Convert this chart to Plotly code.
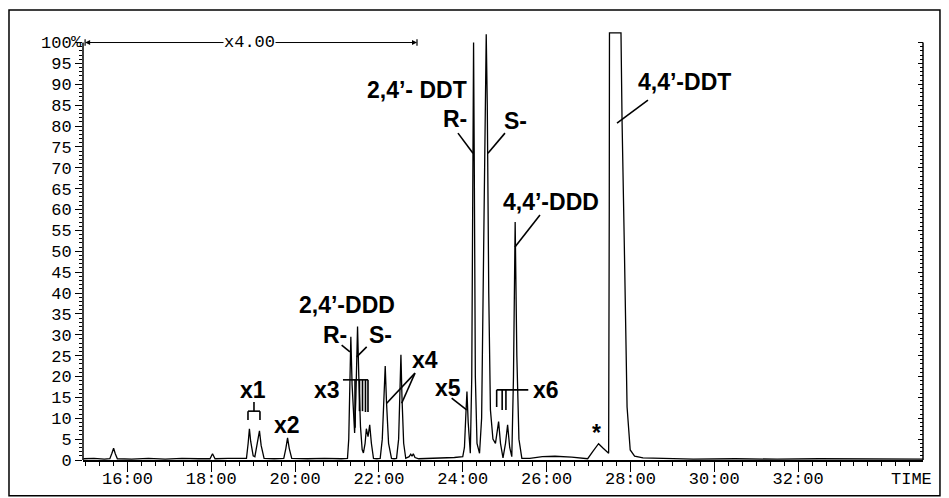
import plotly.graph_objects as go

# ---------------- data ----------------
# retention time (min) and relative intensity (%)
time_min = [
    14.95, 15.20, 15.45, 15.58, 15.63, 15.67, 15.71, 15.76, 16.10, 16.50,
    16.90, 17.30, 17.70, 17.97, 18.03, 18.09, 18.40, 18.70, 18.84, 18.88,
    18.91, 18.94, 19.00, 19.04, 19.09, 19.15, 19.19, 19.26, 19.50, 19.73,
    19.78, 19.82, 19.86, 19.92, 20.30, 20.70, 21.10, 21.25, 21.28, 21.31,
    21.33, 21.36, 21.40, 21.42, 21.45, 21.47, 21.49, 21.52, 21.56, 21.60,
    21.63, 21.67, 21.70, 21.74, 21.78, 21.82, 21.87, 21.95, 22.03, 22.08,
    22.12, 22.15, 22.18, 22.23, 22.30, 22.36, 22.42, 22.47, 22.50, 22.525,
    22.55, 22.59, 22.64, 22.72, 22.76, 22.79, 22.82, 22.86, 22.95, 23.40,
    23.80, 24.00, 24.04, 24.07, 24.10, 24.13, 24.16, 24.18, 24.215, 24.24,
    24.258, 24.275, 24.30, 24.34, 24.40, 24.45, 24.50, 24.535, 24.56, 24.585,
    24.62, 24.66, 24.72, 24.78, 24.82, 24.855, 24.90, 24.96, 25.02, 25.07,
    25.12, 25.17, 25.21, 25.25, 25.29, 25.34, 25.41, 25.60, 25.90, 26.20,
    26.60, 26.90, 26.98, 27.10, 27.24, 27.35, 27.46, 27.48, 27.495, 27.50,
    27.775, 27.80, 27.855, 27.92, 27.995, 28.10, 28.30, 28.60, 28.90, 29.50,
    30.50, 31.50, 32.50, 33.50, 34.98,
]
intensity = [
    0.3, 0.4, 0.2, 0.3, 1.6, 2.8, 1.5, 0.3, 0.2, 0.4,
    0.2, 0.4, 0.3, 0.3, 1.5, 0.3, 0.4, 0.3, 0.4, 4.0,
    7.5, 4.5, 1.0, 0.8, 3.5, 7.0, 3.5, 0.4, 0.3, 0.4,
    2.8, 5.3, 2.8, 0.4, 0.3, 0.4, 0.3, 0.4, 5.0, 22.0,
    29.5, 18.0, 8.0, 6.5, 15.0, 27.0, 32.0, 20.0, 8.0, 2.5,
    1.7, 4.0, 7.5, 5.6, 8.4, 4.0, 0.4, 0.3, 0.4, 5.0,
    15.0, 22.5, 14.0, 4.0, 0.4, 0.3, 0.4, 5.0, 16.0, 25.2,
    15.0, 4.0, 0.4, 0.8, 1.4, 0.9, 1.5, 0.6, 0.3, 0.4,
    0.6, 0.8, 3.0, 10.0, 16.4, 9.0, 2.5, 1.6, 20.0, 70.0,
    100.0, 70.0, 20.0, 4.0, 1.6, 10.0, 50.0, 90.0, 102.0, 85.0,
    40.0, 12.0, 5.0, 4.0, 7.0, 9.2, 4.0, 0.5, 4.0, 8.4,
    3.0, 0.8, 20.0, 57.0, 25.0, 5.0, 0.4, 0.4, 0.8, 0.9,
    0.7, 0.4, 0.3, 2.0, 3.9, 2.8, 1.6, 1.6, 60.0, 102.3,
    102.3, 81.5, 51.0, 12.7, 2.4, 0.9, 0.5, 0.4, 0.3, 0.2,
    0.3, 0.2, 0.3, 0.2, 0.2,
]

# axis ticks
x_tick_vals = [16, 18, 20, 22, 24, 26, 28, 30, 32]
x_tick_text = ["16:00", "18:00", "20:00", "22:00", "24:00", "26:00", "28:00", "30:00", "32:00"]
y_tick_vals = list(range(0, 101, 5))
y_tick_text = [str(v) for v in y_tick_vals]

# peak labels: (text, time, intensity)
peak_labels = [
    ("2,4\u2019- DDT", 22.91, 88.6),
    ("R-", 23.81, 81.7),
    ("S-", 25.25, 81.2),
    ("4,4\u2019-DDT", 29.28, 90.5),
    ("4,4\u2019-DDD", 26.10, 61.8),
    ("2,4\u2019-DDD", 21.24, 37.1),
    ("R-", 20.95, 29.9),
    ("S-", 22.03, 29.9),
    ("x3", 20.76, 16.8),
    ("x4", 23.10, 24.0),
    ("x5", 23.65, 17.2),
    ("x6", 25.99, 16.8),
    ("x1", 19.00, 16.8),
    ("x2", 19.81, 8.4),
    ("*", 27.18, 6.5),
]

# leader lines / brackets: (t0, v0, t1, v1)
leaders = [
    (23.886, 78.3, 24.244, 73.5),
    (25.007, 78.3, 24.601, 73.5),
    (28.418, 86.2, 27.68, 80.7),
    (25.842, 58.7, 25.245, 51.0),
    (21.111, 27.5, 21.309, 25.9),
    (21.708, 27.1, 21.469, 24.7),
    # x3 bracket
    (21.142, 19.2, 21.739, 19.2),
    (21.43, 19.2, 21.43, 7.7),
    (21.536, 19.2, 21.536, 11.7),
    (21.608, 19.2, 21.608, 11.7),
    (21.679, 19.2, 21.679, 11.5),
    (21.739, 19.2, 21.739, 11.5),
    # x4
    (22.86, 20.8, 22.185, 13.6),
    (22.86, 20.8, 22.543, 13.6),
    # x5
    (23.735, 14.8, 24.093, 12.0),
    # x6 bracket
    (24.809, 16.8, 25.563, 16.8),
    (24.809, 16.8, 24.809, 12.7),
    (24.94, 16.8, 24.94, 12.0),
    (25.03, 16.8, 25.03, 12.0),
    # x1 bracket
    (19.019, 13.9, 19.019, 11.7),
    (18.876, 11.7, 19.162, 11.7),
    (18.876, 11.7, 18.876, 9.6),
    (19.162, 11.7, 19.162, 9.6),
]

X_RANGE = [14.94, 34.98]
Y_RANGE = [0, 103]
MONO = "Liberation Mono"
SANS = "Liberation Sans"

fig = go.Figure()
fig.add_trace(go.Scatter(
    x=time_min, y=intensity, mode="lines",
    line=dict(color="black", width=1.3), hoverinfo="skip", showlegend=False,
))
fig.add_trace(go.Scatter(x=[], y=[], yaxis="y2", showlegend=False, hoverinfo="skip"))

shapes = []
# axis lines spanning 0..100 %
shapes.append(dict(type="line", xref="paper", yref="y", x0=0, x1=0, y0=0, y1=100,
                   line=dict(color="black", width=1.5)))
shapes.append(dict(type="line", xref="paper", yref="y", x0=1, x1=1, y0=0, y1=100,
                   line=dict(color="black", width=1.5)))
# outer frame
shapes.append(dict(type="rect", xref="paper", yref="paper",
                   x0=-0.0881, x1=1.0202, y0=-0.083, y1=1.0465,
                   line=dict(color="black", width=1.5)))
for t0, v0, t1, v1 in leaders:
    shapes.append(dict(type="line", xref="x", yref="y", x0=t0, y0=v0, x1=t1, y1=v1,
                       line=dict(color="black", width=1.6)))
# x4.00 range end bars
for tb in (14.99, 22.908):
    shapes.append(dict(type="line", xref="x", yref="y", x0=tb, x1=tb, y0=99.2, y1=100.8,
                       line=dict(color="black", width=1.2)))

annotations = []
for text, t, v in peak_labels:
    annotations.append(dict(x=t, y=v, xref="x", yref="y", text=text, showarrow=False,
                            font=dict(family=SANS, size=23, color="black", weight="bold"),
                            xanchor="center", yanchor="middle"))
# x4.00 arrows
for tend in (14.99, 22.908):
    annotations.append(dict(x=tend, y=100, ax=18.924, ay=100, xref="x", yref="y",
                            axref="x", ayref="y", text="", showarrow=True,
                            arrowhead=2, arrowsize=1, arrowwidth=1, arrowcolor="black"))
annotations.append(dict(x=18.924, y=100, xref="x", yref="y", text="x4.00", showarrow=False,
                        bgcolor="white", font=dict(family=MONO, size=17, color="black"),
                        borderpad=0))
# "%" after the 100 tick label, and the TIME axis caption
annotations.append(dict(x=-0.0083, y=100 / Y_RANGE[1], xref="paper", yref="paper", text="%",
                        showarrow=False, xanchor="center", yanchor="middle",
                        font=dict(family=MONO, size=17, color="black")))
annotations.append(dict(x=(34.716 - X_RANGE[0]) / (X_RANGE[1] - X_RANGE[0]), y=0,
                        xref="paper", yref="paper", yshift=-19, text="TIME",
                        showarrow=False, xanchor="center", yanchor="middle",
                        font=dict(family=MONO, size=17, color="black")))

minor_x = [16 + k / 3 for k in range(-3, 57) if X_RANGE[0] <= 16 + k / 3 <= X_RANGE[1]]
minor_y = [v for v in range(1, 100) if v % 5]

fig.update_layout(
    width=949, height=498,
    margin=dict(l=83, r=26, t=30, b=38, autoexpand=False),
    paper_bgcolor="white", plot_bgcolor="white",
    showlegend=False,
    shapes=shapes, annotations=annotations,
    xaxis=dict(
        range=X_RANGE, showgrid=False, zeroline=False, automargin=False,
        showline=True, linecolor="black", linewidth=1.5,
        ticks="outside", ticklen=10, tickwidth=1.3, tickcolor="black",
        tickmode="array", tickvals=x_tick_vals, ticktext=x_tick_text,
        tickfont=dict(family=MONO, size=17, color="black"),
        ticklabelstandoff=-8,
        minor=dict(tickmode="array", tickvals=minor_x, ticks="outside", ticklen=4,
                   tickwidth=1.2, tickcolor="black"),
    ),
    yaxis=dict(
        range=Y_RANGE, showgrid=False, zeroline=False, showline=False, automargin=False,
        ticks="outside", ticklen=7, tickwidth=1.2, tickcolor="black",
        tickmode="array", tickvals=y_tick_vals, ticktext=y_tick_text,
        tickfont=dict(family=MONO, size=17, color="black"),
        minor=dict(tickmode="array", tickvals=minor_y, ticks="outside", ticklen=3.5,
                   tickwidth=1, tickcolor="black"),
    ),
    yaxis2=dict(
        range=Y_RANGE, overlaying="y", side="right", anchor="x", automargin=False,
        showgrid=False, zeroline=False, showline=False, showticklabels=False,
        ticks="inside", ticklen=5, tickwidth=1.2, tickcolor="black",
        tickmode="array", tickvals=y_tick_vals,
        minor=dict(tickmode="array", tickvals=minor_y, ticks="inside", ticklen=3,
                   tickwidth=1, tickcolor="black"),
    ),
)

fig.write_html("out.html")
